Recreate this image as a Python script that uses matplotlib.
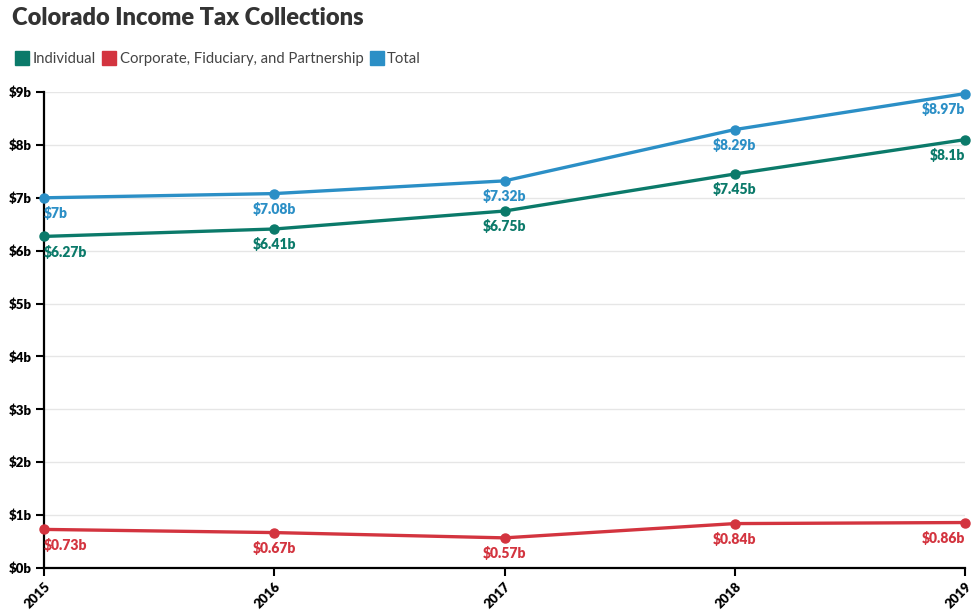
import matplotlib.pyplot as plt
from matplotlib.lines import Line2D

plt.rcParams['font.family'] = ['Lato', 'DejaVu Sans']

years = [2015, 2016, 2017, 2018, 2019]
individual = [6.27, 6.41, 6.75, 7.45, 8.10]
corporate = [0.73, 0.67, 0.57, 0.84, 0.86]
total = [7.00, 7.08, 7.32, 8.29, 8.97]
labels_individual = ['$6.27b', '$6.41b', '$6.75b', '$7.45b', '$8.1b']
labels_corporate = ['$0.73b', '$0.67b', '$0.57b', '$0.84b', '$0.86b']
labels_total = ['$7b', '$7.08b', '$7.32b', '$8.29b', '$8.97b']

series_names = ['Individual', 'Corporate, Fiduciary, and Partnership', 'Total']
colors = ['#0b7a6a', '#d3343f', '#2b8fc6']

fig = plt.figure(figsize=(9.8, 6.16), dpi=100)
ax = fig.add_axes([0.0449, 0.0779, 0.9398, 0.7727])

for vals, labs, c in zip([individual, corporate, total],
                         [labels_individual, labels_corporate, labels_total], colors):
    ax.plot(years, vals, color=c, lw=2.4, marker='o', ms=6.5, zorder=3, clip_on=False)
    for i, (x, y, t) in enumerate(zip(years, vals, labs)):
        ha = 'left' if i == 0 else ('right' if i == len(years) - 1 else 'center')
        ax.annotate(t, (x, y), xytext=(0, -6), textcoords='offset points',
                    ha=ha, va='top', color=c, fontsize=10, fontweight='heavy')

ax.set_xlim(2015, 2019)
ax.set_ylim(0, 9)
ax.set_xticks(years)
ax.set_xticklabels([str(y) for y in years], rotation=45, ha='right',
                   rotation_mode='anchor', fontsize=9.5, fontweight='heavy')
ax.set_yticks(range(10))
ax.set_yticklabels([f'${v}b' for v in range(10)], fontsize=9.5, fontweight='heavy')
ax.tick_params(axis='both', length=6, width=1.5, color='black', pad=3)
ax.grid(axis='y', color='#e6e6e6', lw=1)
ax.set_axisbelow(True)
for s in ['top', 'right']:
    ax.spines[s].set_visible(False)
for s in ['left', 'bottom']:
    ax.spines[s].set_linewidth(1.6)
    ax.spines[s].set_color('black')

fig.text(0.012, 0.97, 'Colorado Income Tax Collections', fontsize=17,
         fontweight='heavy', color='#333333', va='center', ha='left')

handles = [Line2D([], [], marker='s', color=c, lw=0, ms=10) for c in colors]
fig.legend(handles, series_names, loc='center left', bbox_to_anchor=(0.003, 0.904),
           ncol=3, frameon=False, handlelength=0.8, handletextpad=0.3,
           columnspacing=0.5, fontsize=10.7, labelcolor='#444444')

fig.savefig('out.png', dpi=100)
